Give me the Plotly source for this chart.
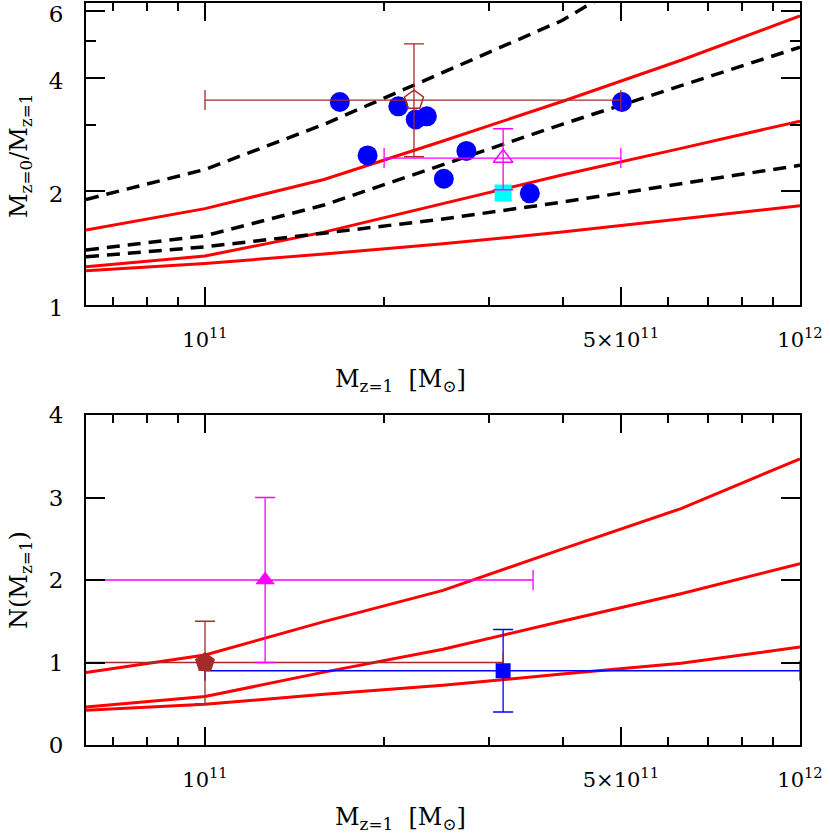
import plotly.graph_objects as go

FONT = "DejaVu Serif"

# ---------------- model grid (log10 of M_z=1) ----------------
logM_grid = [10.8, 11.0, 11.2, 11.4, 11.6, 11.8, 12.0]
mass_grid = [10 ** v for v in logM_grid]

# top panel: M_z=0 / M_z=1 model curves
ratio_red_high = [1.58, 1.80, 2.15, 2.72, 3.46, 4.45, 5.83]
ratio_red_mid = [1.263, 1.348, 1.56, 1.853, 2.21, 2.60, 3.07]
ratio_red_low = [1.232, 1.289, 1.364, 1.452, 1.56, 1.689, 1.832]
ratio_dash_high = [1.904, 2.286, 3.01, 4.14, 5.67, 8.7, 11.5]
ratio_dash_mid = [1.398, 1.525, 1.84, 2.35, 3.01, 3.81, 4.82]
ratio_dash_low = [1.342, 1.426, 1.55, 1.69, 1.873, 2.10, 2.345]

# bottom panel: N(M_z=1) model curves
n_red_high = [0.878, 1.091, 1.495, 1.874, 2.374, 2.866, 3.468]
n_red_mid = [0.461, 0.587, 0.883, 1.16, 1.499, 1.834, 2.197]
n_red_low = [0.421, 0.494, 0.615, 0.724, 0.86, 0.99, 1.188]

# top panel observations
circle_mass = [1.685e11, 1.876e11, 2.113e11, 2.26e11, 2.36e11, 2.52e11, 2.75e11, 3.515e11, 5.02e11]
circle_ratio = [3.45, 2.49, 3.36, 3.10, 3.16, 2.16, 2.56, 1.976, 3.45]

square_top_mass = [3.17e11]
square_top_ratio = [1.98]

pent_top_mass = [2.245e11]
pent_top_ratio = [3.49]
pent_top_xlo = [1.0e11]
pent_top_xhi = [5.0e11]
pent_top_ylo = [2.47]
pent_top_yhi = [4.92]

tri_top_mass = [3.17e11]
tri_top_ratio = [2.45]
tri_top_xlo = [2.0e11]
tri_top_xhi = [5.0e11]
tri_top_ylo = [2.02]
tri_top_yhi = [2.93]

# bottom panel observations
pent_bot_mass = [1.0e11]
pent_bot_n = [1.0]
pent_bot_xlo = [5.0e10]
pent_bot_xhi = [3.17e11]
pent_bot_ylo = [0.5]
pent_bot_yhi = [1.5]

tri_bot_mass = [1.262e11]
tri_bot_n = [2.0]
tri_bot_xlo = [5.0e10]
tri_bot_xhi = [3.56e11]
tri_bot_ylo = [1.0]
tri_bot_yhi = [3.0]

sq_bot_mass = [3.17e11]
sq_bot_n = [0.9]
sq_bot_xlo = [1.0e11]
sq_bot_xhi = [1.0e12]
sq_bot_ylo = [0.4]
sq_bot_yhi = [1.4]

# ticks
x_major_vals = [1e11, 5e11, 1e12]
x_major_text = ["10<sup>11</sup>", "5×10<sup>11</sup>", "10<sup>12</sup>"]
x_minor_vals = [7e10, 8e10, 9e10, 2e11, 3e11, 4e11, 6e11, 7e11, 8e11, 9e11]
ytop_major_vals = [1, 2, 4, 6]
ytop_major_text = ["1", "2", "4", "6"]
ytop_minor_vals = [3, 5]
ybot_major_vals = [0, 1, 2, 3, 4]
ybot_major_text = ["0", "1", "2", "3", "4"]


def minus(vals, lo):
    return [v - l for v, l in zip(vals, lo)]


def plus(vals, hi):
    return [h - v for v, h in zip(vals, hi)]


fig = go.Figure()

RED = "#ff0000"
BROWN = "#a52a2a"
MAG = "#ff00ff"
BLUE = "#0000ff"
CYAN = "#00ffff"

# ---- top panel curves ----
for ys in (ratio_red_high, ratio_red_mid, ratio_red_low):
    fig.add_trace(go.Scatter(x=mass_grid, y=ys, mode="lines",
                             line=dict(color=RED, width=3), xaxis="x", yaxis="y",
                             showlegend=False, hoverinfo="skip"))
for ys in (ratio_dash_high, ratio_dash_mid, ratio_dash_low):
    fig.add_trace(go.Scatter(x=mass_grid, y=ys, mode="lines",
                             line=dict(color="black", width=3.5, dash="13px,8px"),
                             xaxis="x", yaxis="y", showlegend=False, hoverinfo="skip"))

# blue circles
fig.add_trace(go.Scatter(x=circle_mass, y=circle_ratio, mode="markers",
                         marker=dict(symbol="circle", size=20, color=BLUE),
                         xaxis="x", yaxis="y", showlegend=False))
# cyan square
fig.add_trace(go.Scatter(x=square_top_mass, y=square_top_ratio, mode="markers",
                         marker=dict(symbol="square", size=17, color=CYAN),
                         xaxis="x", yaxis="y", showlegend=False))
# brown open pentagon
fig.add_trace(go.Scatter(
    x=pent_top_mass, y=pent_top_ratio, mode="markers",
    marker=dict(symbol="pentagon-open", size=20, color=BROWN, line=dict(width=1.5, color=BROWN)),
    error_x=dict(type="data", symmetric=False, array=plus(pent_top_mass, pent_top_xhi),
                 arrayminus=minus(pent_top_mass, pent_top_xlo), color=BROWN, thickness=1.3, width=10),
    error_y=dict(type="data", symmetric=False, array=plus(pent_top_ratio, pent_top_yhi),
                 arrayminus=minus(pent_top_ratio, pent_top_ylo), color=BROWN, thickness=1.3, width=10),
    xaxis="x", yaxis="y", showlegend=False))
# magenta open triangle
fig.add_trace(go.Scatter(
    x=tri_top_mass, y=tri_top_ratio, mode="markers",
    marker=dict(symbol="triangle-up-open", size=17, color=MAG, line=dict(width=1.5, color=MAG)),
    error_x=dict(type="data", symmetric=False, array=plus(tri_top_mass, tri_top_xhi),
                 arrayminus=minus(tri_top_mass, tri_top_xlo), color=MAG, thickness=1.3, width=10),
    error_y=dict(type="data", symmetric=False, array=plus(tri_top_ratio, tri_top_yhi),
                 arrayminus=minus(tri_top_ratio, tri_top_ylo), color=MAG, thickness=1.3, width=10),
    xaxis="x", yaxis="y", showlegend=False))

# ---- bottom panel curves ----
for ys in (n_red_high, n_red_mid, n_red_low):
    fig.add_trace(go.Scatter(x=mass_grid, y=ys, mode="lines",
                             line=dict(color=RED, width=3), xaxis="x2", yaxis="y2",
                             showlegend=False, hoverinfo="skip"))

# blue square error bars (drawn beneath the pentagon)
fig.add_trace(go.Scatter(
    x=sq_bot_mass, y=sq_bot_n, mode="markers",
    marker=dict(symbol="square", size=1, color="rgba(0,0,0,0)"),
    error_x=dict(type="data", symmetric=False, array=plus(sq_bot_mass, sq_bot_xhi),
                 arrayminus=minus(sq_bot_mass, sq_bot_xlo), color=BLUE, thickness=1.3, width=10),
    error_y=dict(type="data", symmetric=False, array=plus(sq_bot_n, sq_bot_yhi),
                 arrayminus=minus(sq_bot_n, sq_bot_ylo), color=BLUE, thickness=1.3, width=10),
    xaxis="x2", yaxis="y2", showlegend=False, hoverinfo="skip"))
# brown filled pentagon
fig.add_trace(go.Scatter(
    x=pent_bot_mass, y=pent_bot_n, mode="markers",
    marker=dict(symbol="pentagon", size=21, color=BROWN),
    error_x=dict(type="data", symmetric=False, array=plus(pent_bot_mass, pent_bot_xhi),
                 arrayminus=minus(pent_bot_mass, pent_bot_xlo), color=BROWN, thickness=1.3, width=10),
    error_y=dict(type="data", symmetric=False, array=plus(pent_bot_n, pent_bot_yhi),
                 arrayminus=minus(pent_bot_n, pent_bot_ylo), color=BROWN, thickness=1.3, width=10),
    xaxis="x2", yaxis="y2", showlegend=False))
# magenta filled triangle
fig.add_trace(go.Scatter(
    x=tri_bot_mass, y=tri_bot_n, mode="markers",
    marker=dict(symbol="triangle-up", size=17, color=MAG),
    error_x=dict(type="data", symmetric=False, array=plus(tri_bot_mass, tri_bot_xhi),
                 arrayminus=minus(tri_bot_mass, tri_bot_xlo), color=MAG, thickness=1.3, width=10),
    error_y=dict(type="data", symmetric=False, array=plus(tri_bot_n, tri_bot_yhi),
                 arrayminus=minus(tri_bot_n, tri_bot_ylo), color=MAG, thickness=1.3, width=10),
    xaxis="x2", yaxis="y2", showlegend=False))
# blue square marker
fig.add_trace(go.Scatter(x=sq_bot_mass, y=sq_bot_n, mode="markers",
                         marker=dict(symbol="square", size=15, color=BLUE),
                         xaxis="x2", yaxis="y2", showlegend=False))

# ---------------- layout ----------------
L, R, T, B = 86, 30, 3, 89
W, H = 830, 834
PW, PH = W - L - R, H - T - B


def px_x(p):
    return (p - L) / PW


def px_y(p):
    return (H - B - p) / PH


axis_base = dict(showline=True, linewidth=2, linecolor="black", mirror="ticks",
                 showgrid=False, zeroline=False, ticks="inside", tickwidth=2,
                 tickcolor="black", automargin=False, ticklabeloverflow="allow")

xaxis_common = dict(axis_base, type="log", range=[10.8, 12.0], tickmode="array",
                    tickvals=x_major_vals, ticktext=x_major_text, ticklen=18,
                    tickfont=dict(family=FONT, size=21, color="black"),
                    ticklabelstandoff=15,
                    minor=dict(tickmode="array", tickvals=x_minor_vals, ticks="inside",
                               ticklen=8, tickwidth=2, tickcolor="black"))

fig.update_layout(
    width=W, height=H,
    autosize=False,
    margin=dict(l=L, r=R, t=T, b=B, autoexpand=False),
    paper_bgcolor="white", plot_bgcolor="white",
    font=dict(family=FONT, color="black"),
    xaxis=dict(xaxis_common, domain=[0, 1], anchor="y"),
    yaxis=dict(axis_base, type="log", range=[0, 0.80], domain=[px_y(305), 1], anchor="x",
               tickmode="array", tickvals=ytop_major_vals, ticktext=ytop_major_text,
               ticklen=19, ticklabelstandoff=16, ticklabelshift=3,
               tickfont=dict(family=FONT, size=23, color="black"),
               minor=dict(tickmode="array", tickvals=ytop_minor_vals, ticks="inside",
                          ticklen=10, tickwidth=2, tickcolor="black")),
    xaxis2=dict(xaxis_common, domain=[0, 1], anchor="y2"),
    yaxis2=dict(axis_base, type="linear", range=[0, 4], domain=[0, px_y(415)], anchor="x2",
                tickmode="array", tickvals=ybot_major_vals, ticktext=ybot_major_text,
                ticklen=19, ticklabelstandoff=16,
                tickfont=dict(family=FONT, size=23, color="black")),
)

title_font = dict(family=FONT, size=24, color="black")
annotations = [
    dict(text="M<sub>z=1</sub>  [M<sub>⊙</sub>]", x=px_x(400), y=px_y(380)),
    dict(text="M<sub>z=1</sub>  [M<sub>⊙</sub>]", x=px_x(400), y=px_y(818)),
    dict(text="M<sub>z=0</sub>/M<sub>z=1</sub>", x=px_x(20), y=px_y(156), textangle=-90),
    dict(text="N(M<sub>z=1</sub>)", x=px_x(20), y=px_y(580), textangle=-90),
]
for a in annotations:
    fig.add_annotation(xref="paper", yref="paper", showarrow=False,
                       xanchor="center", yanchor="middle", font=title_font, **a)

fig.write_html("out.html", config={"displayModeBar": False},
               post_script="document.body.style.margin='0px';document.body.style.overflow='hidden';")
